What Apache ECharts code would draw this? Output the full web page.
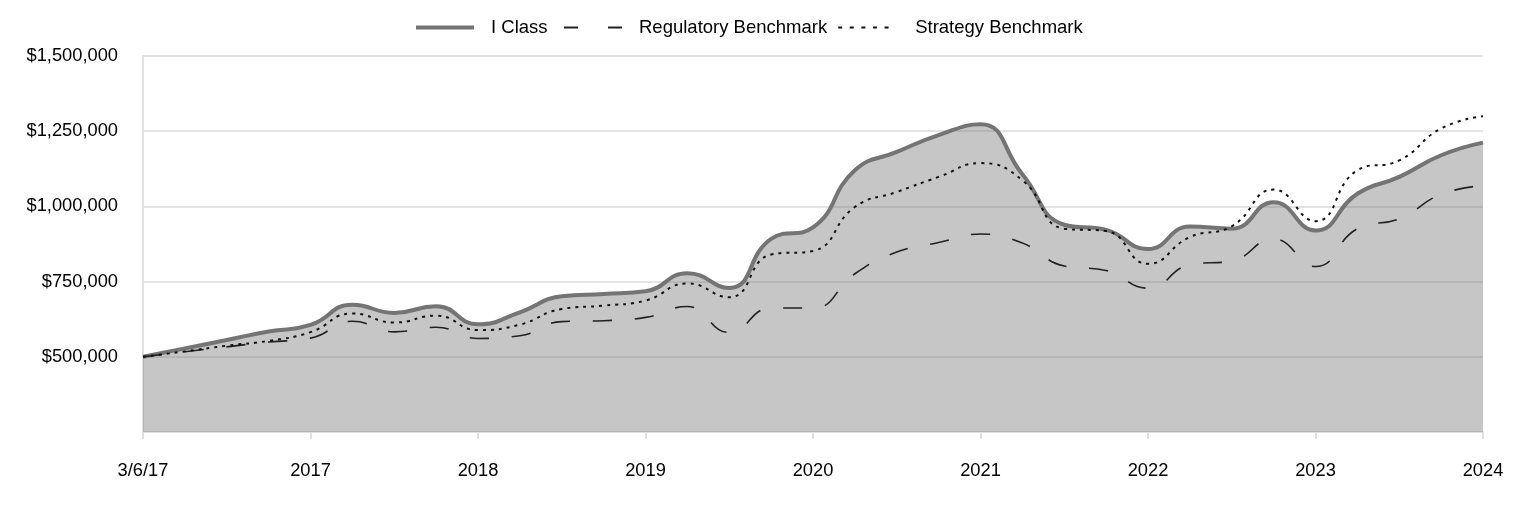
<!DOCTYPE html>
<html>
<head>
<meta charset="utf-8">
<script src="https://cdn.jsdelivr.net/npm/echarts@6/dist/echarts.min.js"></script>
<style>
html,body{margin:0;padding:0;background:#fff;}
#chart{width:1524px;height:516px;}
</style>
</head>
<body>
<div id="chart"></div>
<script>
// Quarterly observation points (3/6/17 through 2024)
const categories = [
  "3/6/17","Q2","Q3","Q4","2017","Q2","Q3","Q4","2018","Q2","Q3","Q4","2019","Q2","Q3","Q4",
  "2020","Q2","Q3","Q4","2021","Q2","Q3","Q4","2022","Q2","Q3","Q4","2023","Q2","Q3","Q4","2024"
];
const tickLabels = ["3/6/17","2017","2018","2019","2020","2021","2022","2023","2024"];

const iClass = [500000, 528000, 556000, 584000, 606000, 673000, 646000, 668000, 608000, 648000, 701000, 709000, 718000, 778000, 729000, 892000, 930000, 1120000, 1181000, 1237000, 1273000, 1107000, 939000, 922000, 858000, 933000, 926000, 1014000, 920000, 1042000, 1098000, 1170000, 1212000];
const regulatory = [500000, 517000, 533000, 549000, 562000, 618000, 583000, 598000, 561000, 570000, 617000, 620000, 631000, 667000, 581000, 662000, 662000, 776000, 848000, 880000, 908000, 878000, 802000, 787000, 728000, 806000, 819000, 892000, 800000, 926000, 959000, 1040000, 1069000];
const strategy = [500000, 518000, 537000, 553000, 582000, 644000, 614000, 637000, 589000, 607000, 659000, 670000, 687000, 744000, 698000, 840000, 852000, 998000, 1048000, 1098000, 1144000, 1087000, 926000, 918000, 809000, 898000, 934000, 1056000, 951000, 1120000, 1153000, 1259000, 1300000];

const FONT = "'Liberation Sans', Arial, sans-serif";
const FS = 18.3;
const chart = echarts.init(document.getElementById('chart'), null, {renderer: 'canvas'});

function money(v) {
  return '$' + v.toString().replace(/\B(?=(\d{3})+(?!\d))/g, ',');
}

const legendBase = {
  top: 13,
  itemWidth: 58,
  itemHeight: 14,
  itemGap: 10,
  itemStyle: {opacity: 0},
  textStyle: {fontFamily: FONT, fontSize: 18.5, color: '#000'}
};

chart.setOption({
  animation: false,
  backgroundColor: '#ffffff',
  textStyle: {fontFamily: FONT},
  legend: [
    Object.assign({}, legendBase, {
      left: 409,
      data: [
        {name: 'I Class', lineStyle: {width: 4, color: '#747474'}, textStyle: {padding: [0, 0, 0, 12]}}
      ]
    }),
    Object.assign({}, legendBase, {
      left: 558,
      data: [
        {name: 'Regulatory Benchmark', lineStyle: {width: 2, color: '#222', type: [14, 30]}, textStyle: {padding: [0, 0, 0, 12]}},
        {name: 'Strategy Benchmark', lineStyle: {width: 2, color: '#111', type: [4, 7.6]}, textStyle: {padding: [0, 0, 0, 14]}}
      ]
    })
  ],
  grid: {left: 143, right: 41, top: 56, bottom: 84, containLabel: false},
  xAxis: {
    type: 'category',
    data: categories,
    boundaryGap: false,
    axisLine: {show: true, lineStyle: {color: '#e0e0e0', width: 2}},
    axisTick: {show: true, interval: 3, length: 7, lineStyle: {color: '#e0e0e0', width: 2}},
    axisLabel: {
      interval: 3,
      margin: 30,
      fontFamily: FONT,
      fontSize: FS,
      color: '#000',
      formatter: function (v, i) { return tickLabels[Math.round(i / 4)]; }
    },
    splitLine: {show: false}
  },
  yAxis: {
    type: 'value',
    min: 250000,
    max: 1500000,
    interval: 250000,
    axisLine: {show: true, lineStyle: {color: '#e0e0e0', width: 2}},
    axisTick: {show: false},
    axisLabel: {
      margin: 25,
      fontFamily: FONT,
      fontSize: FS,
      color: '#000',
      formatter: function (v) { return v <= 250000 ? '' : money(v); }
    },
    splitLine: {show: true, lineStyle: {color: '#e3e3e3', width: 2}}
  },
  series: [
    {
      name: 'I Class',
      type: 'line',
      data: iClass,
      smooth: 0.5,
      symbol: 'none',
      lineStyle: {color: '#747474', width: 4},
      itemStyle: {color: '#747474'},
      areaStyle: {color: '#747474', opacity: 0.41},
      z: 2
    },
    {
      name: 'Regulatory Benchmark',
      type: 'line',
      data: regulatory,
      smooth: 0.5,
      symbol: 'none',
      lineStyle: {color: '#222', width: 1.6, type: [19, 23]},
      itemStyle: {color: '#222'},
      z: 3
    },
    {
      name: 'Strategy Benchmark',
      type: 'line',
      data: strategy,
      smooth: 0.5,
      symbol: 'none',
      lineStyle: {color: '#111', width: 2, type: [3, 5]},
      itemStyle: {color: '#111'},
      z: 3
    }
  ]
});
</script>
</body>
</html>
